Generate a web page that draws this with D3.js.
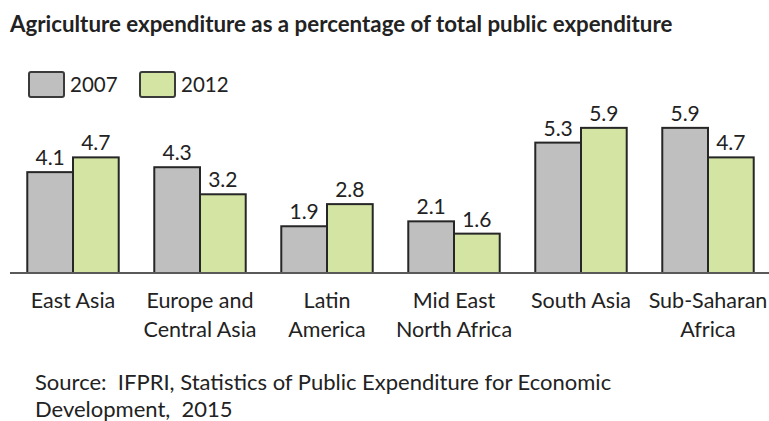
<!DOCTYPE html>
<html>
<head>
<meta charset="utf-8">
<script src="https://cdn.jsdelivr.net/npm/d3@7"></script>
<style>
  body { margin: 0; background: #fff; }
  text { font-family: Lato, "Open Sans", sans-serif; fill: #222; }
</style>
</head>
<body>
<div id="chart"></div>
<script>
"use strict"
// Values
var categories = ["East Asia", "Europe and\nCentral Asia", "Latin\nAmerica", "Mid East\nNorth Africa", "South Asia", "Sub-Saharan\nAfrica"];
var seriesNames = ["2007", "2012"];
var values2007 = [4.1, 4.3, 1.9, 2.1, 5.3, 5.9];
var values2012 = [4.7, 3.2, 2.8, 1.6, 5.9, 4.7];
var seriesColors = ["#bfbfbf", "#d3e4a3"];

var titleText = "Agriculture expenditure as a percentage of total public expenditure";
var sourceLines = ["Source:  IFPRI, Statistics of Public Expenditure for Economic", "Development,  2015"];

var width = 769, height = 421;
var baseline = 273;

var svg = d3.select("#chart").append("svg")
    .attr("width", width)
    .attr("height", height);

// Scales
var x0 = d3.scaleBand().domain(d3.range(categories.length))
    .range([9.5, 771.5])
    .paddingInner(0.28)
    .paddingOuter(0.14);
var x1 = d3.scaleBand().domain(seriesNames).range([0, x0.bandwidth()]);
var y = d3.scaleLinear().domain([0, 6]).range([baseline, baseline - 6 * 24.6]);

// Title
svg.append("text")
    .attr("x", 10).attr("y", 32)
    .style("font-size", "22.3px")
    .style("font-weight", "bold")
    .text(titleText);

// Legend
var legend = svg.selectAll(".legend").data(seriesNames).enter().append("g")
    .attr("class", "legend")
    .attr("transform", function (d, i) { return "translate(" + (29 + i * 111) + ",72)"; });
legend.append("rect")
    .attr("width", 35).attr("height", 25).attr("rx", 2)
    .attr("fill", function (d, i) { return seriesColors[i]; })
    .attr("stroke", "#3a3a3a").attr("stroke-width", 2);
legend.append("text")
    .attr("x", 41).attr("y", 20)
    .style("font-size", "20.5px")
    .text(function (d) { return d; });

// Bars
var rows = categories.map(function (c, i) {
    return { i: i, vals: [values2007[i], values2012[i]] };
});
var groups = svg.selectAll(".group").data(rows).enter().append("g")
    .attr("class", "group")
    .attr("transform", function (d) { return "translate(" + x0(d.i) + ",0)"; });

var cells = groups.selectAll(".bar").data(function (d) {
    return d.vals.map(function (v, k) { return { key: seriesNames[k], k: k, value: v }; });
}).enter();

cells.append("rect")
    .attr("class", "bar")
    .attr("x", function (d) { return x1(d.key); })
    .attr("y", function (d) { return y(d.value); })
    .attr("width", x1.bandwidth())
    .attr("height", function (d) { return baseline - y(d.value); })
    .attr("fill", function (d) { return seriesColors[d.k]; })
    .attr("stroke", "#262626")
    .attr("stroke-width", 2);

cells.append("text")
    .attr("x", function (d) { return x1(d.key) + x1.bandwidth() / 2; })
    .attr("y", function (d) { return y(d.value) - 7; })
    .attr("text-anchor", "middle")
    .style("font-size", "21px")
    .text(function (d) { return d3.format(".1f")(d.value); });

// Axis line
svg.append("line")
    .attr("x1", 10).attr("x2", width)
    .attr("y1", baseline).attr("y2", baseline)
    .attr("stroke", "#595959").attr("stroke-width", 2);

// Category labels
var catLabels = svg.selectAll(".cat").data(categories).enter().append("text")
    .attr("class", "cat")
    .attr("text-anchor", "middle")
    .attr("transform", function (d, i) { return "translate(" + (x0(i) + x0.bandwidth() / 2) + ",308)"; })
    .style("font-size", "21.5px");
catLabels.selectAll("tspan").data(function (d) { return d.split("\n"); }).enter().append("tspan")
    .attr("x", 0)
    .attr("y", function (d, i) { return i * 29; })
    .text(function (d) { return d; });

// Source note
svg.selectAll(".source").data(sourceLines).enter().append("text")
    .attr("class", "source")
    .attr("x", 35)
    .attr("y", function (d, i) { return 390 + i * 27; })
    .style("font-size", "22px")
    .style("white-space", "pre")
    .text(function (d) { return d; });
</script>
</body>
</html>
